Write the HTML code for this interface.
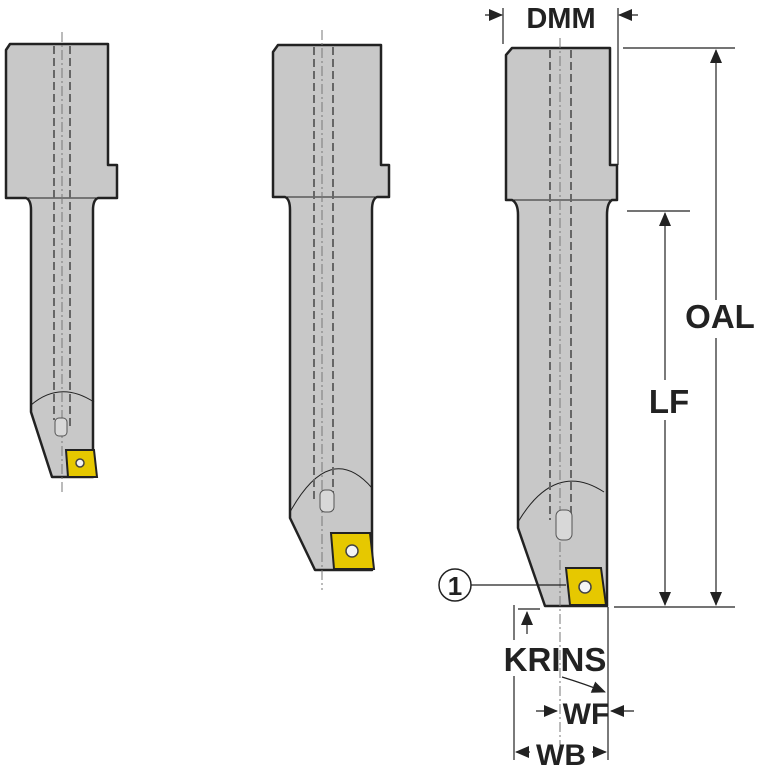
<!DOCTYPE html>
<html><head><style>
html,body{margin:0;padding:0;background:#fff;}
svg{display:block;}
text{font-family:"Liberation Sans",sans-serif;font-weight:bold;fill:#222;}
</style></head><body>
<svg width="767" height="767" viewBox="0 0 767 767" xmlns="http://www.w3.org/2000/svg">
<defs>
<marker id="ah" markerWidth="14" markerHeight="12" refX="13" refY="6" orient="auto" markerUnits="userSpaceOnUse"><path d="M0,0 L14,6 L0,12 z" fill="#222"/></marker>
</defs>
<g stroke="#222" stroke-width="2.5" fill="#c8c8c8" stroke-linejoin="round">
<path d="M10,44 L108,44 L108,165 L117,165 L117,198 L98,198 Q93,200 93,210 L93,477 L52,477 L31,412 L31,210 Q31,200 26,198 L6,198 L6,50 Z"/>
<path d="M278,45 L381,45 L381,165 L389,165 L389,197 L377,197 Q372,199 372,210 L372,570 L315,570 L290,518 L290,210 Q290,199 285,197 L273,197 L273,52 Z"/>
<path d="M512,48 L610,48 L610,165 L617,165 L617,200 L612,200 Q607,203 607,215 L607,606 L545,606 L518,528 L518,215 Q518,203 512,200 L506,200 L506,55 Z"/>
</g>
<g stroke="#222" stroke-width="1" fill="none">
<line x1="6" y1="198" x2="117" y2="198"/>
<line x1="273" y1="197" x2="389" y2="197"/>
<line x1="506" y1="200" x2="617" y2="200"/>
<path d="M31,405 Q60,380 94,402"/>
<path d="M290,512 Q330,440 372,488"/>
<path d="M518,522 Q555,460 604,492"/>
</g>
<g stroke="#666" stroke-width="2" stroke-dasharray="8,4" fill="none">
<line x1="54" y1="46" x2="54" y2="420"/><line x1="70" y1="46" x2="70" y2="430"/>
<line x1="314" y1="47" x2="314" y2="500"/><line x1="333" y1="47" x2="333" y2="510"/>
<line x1="550" y1="50" x2="550" y2="520"/><line x1="571" y1="50" x2="571" y2="530"/>
</g>
<g stroke="#777" stroke-width="1" stroke-dasharray="10,3,2,3" fill="none">
<line x1="62" y1="32" x2="62" y2="495"/>
<line x1="322" y1="30" x2="322" y2="590"/>
<line x1="560" y1="38" x2="560" y2="745"/>
</g>
<g fill="#d8d8d8" stroke="#555" stroke-width="1">
<rect x="55" y="418" width="12" height="18" rx="4"/>
<rect x="320" y="490" width="14" height="22" rx="5"/>
<rect x="556" y="510" width="16" height="30" rx="6"/>
</g>
<g stroke="#222" stroke-width="2" fill="#e6c800">
<path d="M66,450 L94,450 L97,477 L68,477 Z"/>
<path d="M331,533 L370,533 L374,569 L334,569 Z"/>
<path d="M566,568 L601,568 L606,605 L570,605 Z"/>
</g>
<g fill="#f4f4f4" stroke="#444" stroke-width="1.5">
<circle cx="80" cy="463" r="4"/><circle cx="352" cy="551" r="6"/><circle cx="585" cy="587" r="6"/>
</g>
<g stroke="#222" stroke-width="1.2" fill="none">
<line x1="503" y1="8" x2="503" y2="44"/>
<line x1="618" y1="8" x2="618" y2="165"/>
<line x1="485" y1="15" x2="502" y2="15" marker-end="url(#ah)"/>
<line x1="638" y1="15" x2="619" y2="15" marker-end="url(#ah)"/>
<line x1="623" y1="48" x2="735" y2="48"/>
<line x1="627" y1="211" x2="690" y2="211"/>
<line x1="614" y1="607" x2="735" y2="607"/>
<line x1="716" y1="300" x2="716" y2="50" marker-end="url(#ah)"/>
<line x1="716" y1="338" x2="716" y2="605" marker-end="url(#ah)"/>
<line x1="665" y1="380" x2="665" y2="213" marker-end="url(#ah)"/>
<line x1="665" y1="420" x2="665" y2="605" marker-end="url(#ah)"/>
<circle cx="455" cy="585" r="16" stroke-width="1.5"/>
<line x1="471" y1="585" x2="566" y2="585"/>
<line x1="514" y1="605" x2="514" y2="640"/>
<line x1="514" y1="676" x2="514" y2="760"/>
<line x1="608" y1="607" x2="608" y2="760"/>
<line x1="518" y1="609" x2="540" y2="609"/>
<line x1="527" y1="634" x2="527" y2="612" marker-end="url(#ah)"/>
<path d="M562,677 Q585,684 605,692" marker-end="url(#ah)"/>
<line x1="536" y1="711" x2="557" y2="711" marker-end="url(#ah)"/>
<line x1="634" y1="711" x2="611" y2="711" marker-end="url(#ah)"/>
<line x1="530" y1="752" x2="516" y2="752" marker-end="url(#ah)"/>
<line x1="592" y1="752" x2="606" y2="752" marker-end="url(#ah)"/>
</g>
<text x="561" y="28" font-size="29" text-anchor="middle">DMM</text>
<text x="720" y="328" font-size="33" text-anchor="middle">OAL</text>
<text x="669" y="413" font-size="33" text-anchor="middle">LF</text>
<text x="455" y="595" font-size="26" text-anchor="middle">1</text>
<text x="555" y="671" font-size="33" text-anchor="middle">KRINS</text>
<text x="586" y="724" font-size="30" text-anchor="middle">WF</text>
<text x="561" y="765" font-size="30" text-anchor="middle">WB</text>
</svg>
</body></html>
